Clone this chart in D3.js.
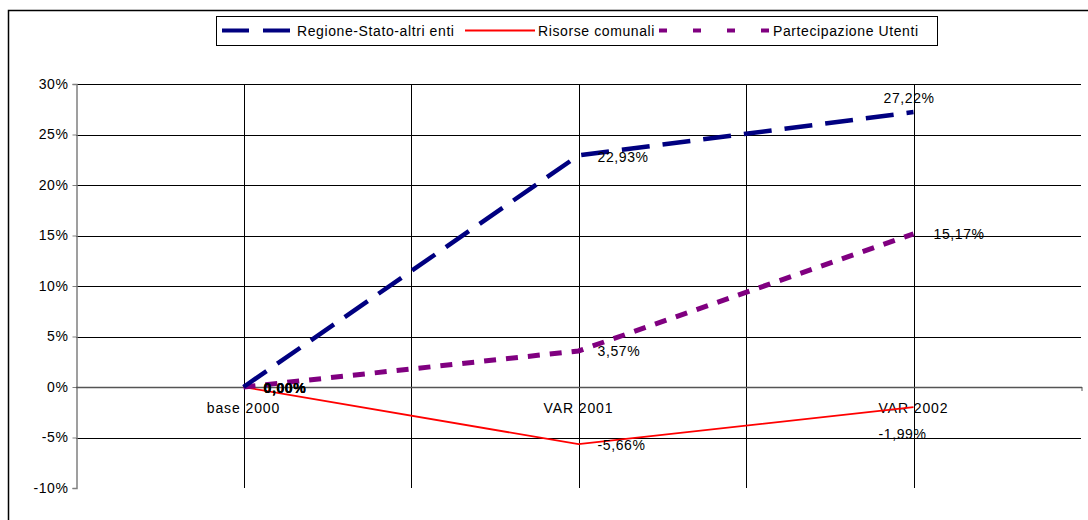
<!DOCTYPE html>
<html><head><meta charset="utf-8">
<script src="https://cdn.jsdelivr.net/npm/d3@7"></script>
<style>body{margin:0;background:#fff}svg{display:block;font-family:"Liberation Sans",Arial,sans-serif}</style>
</head><body><svg id="c" width="1088" height="520"></svg>
<script>
const categories = ["base 2000", "VAR 2001", "VAR 2002"];
const regione = [0, 22.93, 27.22];
const risorse = [0, -5.66, -1.99];
const partecipazione = [0, 3.57, 15.17];
const seriesNames = ["Regione-Stato-altri enti", "Risorse comunali", "Partecipazione Utenti"];
const yTicks = [-10, -5, 0, 5, 10, 15, 20, 25, 30];

const svg = d3.select("#c");
const L = 76, R = 1081, T = 84, B = 488;
const FS = 14, LS = "0.6";
svg.append("rect").attr("x", 8.5).attr("y", 10.5).attr("width", 1100).attr("height", 520)
  .attr("fill", "none").attr("stroke", "#000").attr("stroke-width", 1.5);

const x = d3.scaleBand().domain(categories).range([L, R]).padding(0);
const y = d3.scaleLinear().domain([-10, 30]).range([B, T]);
const cx = c => x(c) + x.bandwidth() / 2;

// horizontal gridlines
svg.append("g").selectAll("line").data(yTicks.filter(t => t !== 0 && t !== -10)).join("line")
  .attr("x1", L).attr("x2", R).attr("y1", d => Math.round(y(d)) + 0.5).attr("y2", d => Math.round(y(d)) + 0.5)
  .attr("stroke", "#000").attr("stroke-width", 1);
// vertical gridlines: band centers and inner boundaries
const vx = [];
categories.forEach((c, i) => { vx.push(cx(c)); if (i < categories.length - 1) vx.push(x(c) + x.bandwidth()); });
svg.append("g").selectAll("line").data(vx).join("line")
  .attr("x1", d => Math.round(d) + 0.5).attr("x2", d => Math.round(d) + 0.5).attr("y1", T).attr("y2", B)
  .attr("stroke", "#000").attr("stroke-width", 1);

// y axis
const ya = d3.axisLeft(y).tickValues(yTicks).tickSize(4).tickFormat(d => d + "%");
const yg = svg.append("g").attr("transform", `translate(${L + 0.5},0)`).call(ya);
yg.select(".domain").attr("stroke", "#808080").attr("stroke-width", 1.5);
yg.selectAll(".tick line").attr("stroke", "#808080");
yg.selectAll(".tick text").attr("font-size", FS).attr("fill", "#000").attr("x", -8)
  .attr("font-family", "Liberation Sans, Arial, sans-serif").attr("letter-spacing", LS);

// zero axis (category axis)
svg.append("line").attr("x1", L).attr("x2", R + 1).attr("y1", Math.round(y(0)) + 0.5).attr("y2", Math.round(y(0)) + 0.5)
  .attr("stroke", "#555").attr("stroke-width", 1.5);
svg.append("line").attr("x1", R + 1).attr("x2", R + 1).attr("y1", y(0)).attr("y2", y(0) + 4).attr("stroke", "#555");
svg.append("g").selectAll("text").data(categories).join("text")
  .attr("x", d => cx(d)).attr("y", y(0) + 26).attr("text-anchor", "middle")
  .attr("font-size", FS).attr("letter-spacing", "0.9").text(d => d);

const line = d3.line().x((d, i) => cx(categories[i])).y(d => y(d));
const styles = [
  {data: regione, color: "#000080", w: 4.5, dash: "28,13"},
  {data: risorse, color: "#ff0000", w: 1.8, dash: null},
  {data: partecipazione, color: "#800080", w: 5, dash: "12,10"}
];
[styles[1], styles[2], styles[0]].forEach(s => {
  svg.append("path").attr("d", line(s.data)).attr("fill", "none").attr("stroke", s.color)
    .attr("stroke-width", s.w).attr("stroke-dasharray", s.dash);
});

const fmt = v => v.toFixed(2).replace(".", ",") + "%";
// data label offsets [dx, dy, weight]
const labelOffsets = [
  [[20, 6, "bold"], [19, 7, "normal"], [-30, -9, "normal"]],
  [[20, 6, "bold"], [19, 6, "normal"], [-35, 32, "normal"]],
  [[20, 6, "bold"], [19, 5, "normal"], [20, 5, "normal"]]
];
[regione, risorse, partecipazione].forEach((arr, si) => {
  arr.forEach((v, i) => {
    const o = labelOffsets[si][i];
    svg.append("text").attr("x", cx(categories[i]) + o[0]).attr("y", y(v) + o[1])
      .attr("font-size", FS).attr("font-weight", o[2]).attr("letter-spacing", LS).text(fmt(v));
  });
});

// legend
const lg = svg.append("g");
lg.append("rect").attr("x", 216.5).attr("y", 16.5).attr("width", 721).attr("height", 29)
  .attr("fill", "#fff").attr("stroke", "#000").attr("stroke-width", 1);
const items = [
  {x1: 222, x2: 291, tx: 297, s: styles[0]},
  {x1: 465, x2: 535, tx: 538, s: styles[1]},
  {x1: 659, x2: 771, tx: 773, s: styles[2]}
];
items.forEach((it, i) => {
  let dash = it.s.dash;
  if (i === 0) dash = "27,14";
  if (i === 2) dash = "8,26";
  lg.append("line").attr("x1", it.x1).attr("x2", it.x2).attr("y1", 30.5).attr("y2", 30.5)
    .attr("stroke", it.s.color).attr("stroke-width", i === 1 ? 1.8 : 4).attr("stroke-dasharray", dash);
  lg.append("text").attr("x", it.tx).attr("y", 36).attr("font-size", FS).attr("letter-spacing", LS)
    .text(seriesNames[i]);
});
</script></body></html>
